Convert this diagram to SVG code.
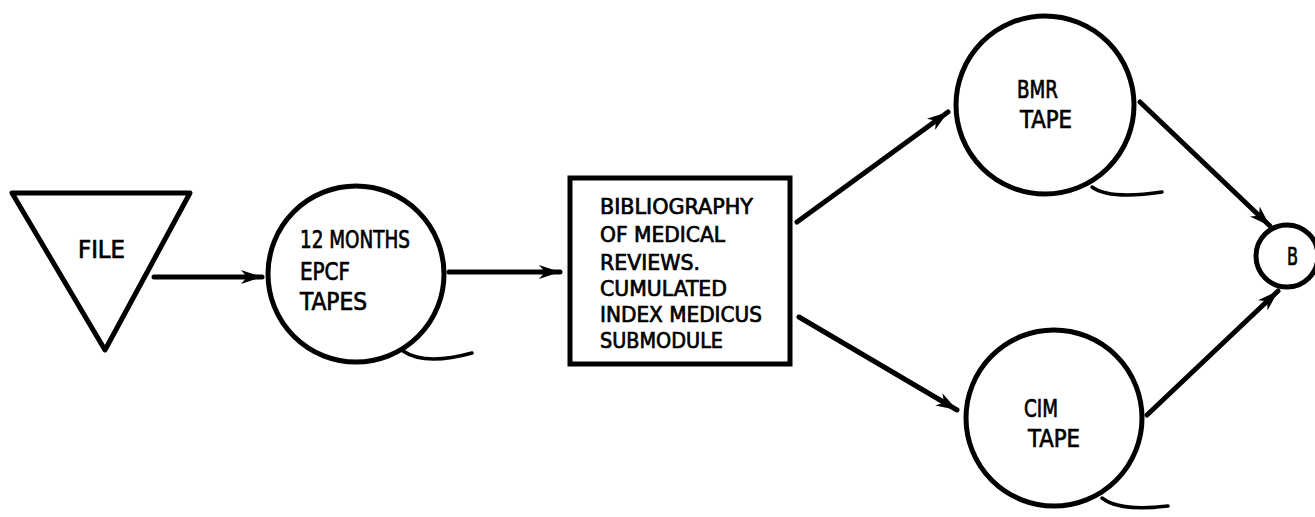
<svg xmlns="http://www.w3.org/2000/svg" width="1315" height="517" viewBox="0 0 1315 517">
<defs>
<marker id="arr" markerUnits="userSpaceOnUse" markerWidth="24" markerHeight="18" refX="21" refY="9" orient="auto">
<path d="M0,2 L21,9 L0,16 L6,9 z" fill="#000"/>
</marker>
<style>
.n{fill:#fff;stroke:#000;stroke-width:5}
.t{fill:none;stroke:#000;stroke-width:3.5;stroke-linecap:round}
.c{fill:none;stroke:#000;stroke-width:5;stroke-linecap:round;marker-end:url(#arr)}
text{font-family:"DejaVu Sans Condensed","Liberation Sans",sans-serif;font-size:25px;fill:#000;stroke:#000;stroke-width:0.7}
.s{font-size:22px}
</style>
</defs>
<rect width="1315" height="517" fill="#fff"/>
<g id="connectors">
<line class="c" x1="154" y1="277" x2="262" y2="277"/>
<line class="c" x1="449" y1="272" x2="560" y2="272"/>
<line class="c" x1="797" y1="222" x2="948" y2="112"/>
<line class="c" x1="799" y1="317" x2="957" y2="410"/>
<line class="c" x1="1140" y1="102" x2="1270" y2="226"/>
<line class="c" x1="1147" y1="415" x2="1278" y2="291"/>
</g>
<g id="file">
<polygon class="n" points="12,193 190,193 105,350" stroke-width="6" stroke-linejoin="round"/>
<text x="78" y="258" textLength="47" lengthAdjust="spacingAndGlyphs">FILE</text>
</g>
<g id="epcf">
<circle class="n" cx="356" cy="274" r="88"/>
<path class="t" d="M403,351 Q425,366 472,353"/>
<text x="300" y="248" textLength="110" lengthAdjust="spacingAndGlyphs">12 MONTHS</text>
<text x="300" y="280" textLength="50" lengthAdjust="spacingAndGlyphs">EPCF</text>
<text x="300" y="310" textLength="67" lengthAdjust="spacingAndGlyphs">TAPES</text>
</g>
<g id="submodule">
<rect class="n" x="570" y="178" width="220" height="186"/>
<text class="s" x="600" y="214" textLength="153" lengthAdjust="spacingAndGlyphs">BIBLIOGRAPHY</text>
<text class="s" x="600" y="242" textLength="125" lengthAdjust="spacingAndGlyphs">OF MEDICAL</text>
<text class="s" x="600" y="270" textLength="100" lengthAdjust="spacingAndGlyphs">REVIEWS.</text>
<text class="s" x="600" y="296" textLength="127" lengthAdjust="spacingAndGlyphs">CUMULATED</text>
<text class="s" x="600" y="322" textLength="162" lengthAdjust="spacingAndGlyphs">INDEX MEDICUS</text>
<text class="s" x="600" y="348" textLength="123" lengthAdjust="spacingAndGlyphs">SUBMODULE</text>
</g>
<g id="bmr">
<circle class="n" cx="1045" cy="105" r="89"/>
<path class="t" d="M1092,187 Q1110,200 1162,192"/>
<text x="1017" y="98" textLength="41" lengthAdjust="spacingAndGlyphs">BMR</text>
<text x="1020" y="128" textLength="52" lengthAdjust="spacingAndGlyphs">TAPE</text>
</g>
<g id="cim">
<circle class="n" cx="1054" cy="418" r="88"/>
<path class="t" d="M1102,498 Q1120,512 1168,506"/>
<text x="1024" y="417" textLength="34" lengthAdjust="spacingAndGlyphs">CIM</text>
<text x="1028" y="447" textLength="52" lengthAdjust="spacingAndGlyphs">TAPE</text>
</g>
<g id="b">
<circle class="n" cx="1287" cy="256" r="31" stroke-width="4.5"/>
<text x="1287" y="265" textLength="11" lengthAdjust="spacingAndGlyphs" font-size="23">B</text>
</g>
</svg>
